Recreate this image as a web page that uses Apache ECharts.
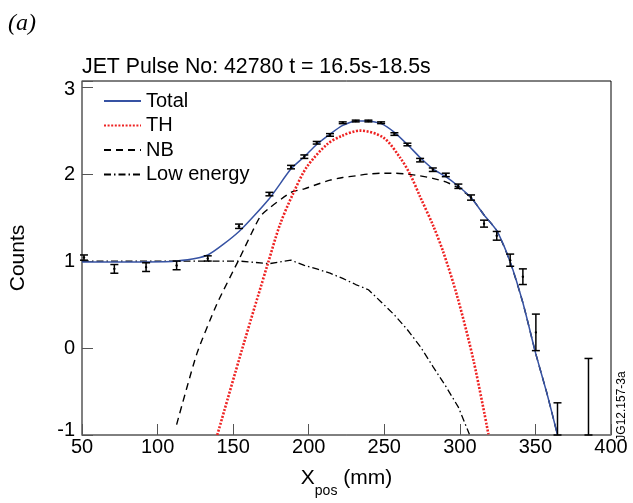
<!DOCTYPE html>
<html>
<head>
<meta charset="utf-8">
<script src="https://cdn.jsdelivr.net/npm/echarts@6/dist/echarts.min.js"></script>
<style>
  html, body { margin: 0; padding: 0; background: #fff; }
  #chart { width: 633px; height: 503px; }
</style>
</head>
<body>
<div id="chart"></div>
<script>
// measured points with error bars
var dataX   = [51.3, 71.4, 92.4, 112.6, 133.2, 153.9, 174.0, 188.3, 197.1, 205.3, 214.1, 222.5, 231.1, 239.5, 247.9, 256.7, 265.3, 273.7, 282.1, 290.7, 299.0, 307.4, 316.0, 324.4, 333.3, 341.7, 350.3, 364.6, 385.1];
var dataY   = [1.04, 0.91, 0.93, 0.95, 1.03, 1.40, 1.77, 2.08, 2.20, 2.36, 2.45, 2.59, 2.61, 2.61, 2.59, 2.46, 2.34, 2.16, 2.05, 1.99, 1.86, 1.73, 1.43, 1.29, 1.01, 0.82, 0.18, -1.20, -1.30];
var dataErr = [0.03, 0.05, 0.05, 0.05, 0.03, 0.025, 0.02, 0.02, 0.02, 0.015, 0.015, 0.01, 0.01, 0.01, 0.01, 0.015, 0.015, 0.02, 0.02, 0.02, 0.025, 0.03, 0.04, 0.05, 0.07, 0.09, 0.21, 0.57, 1.18];

// fit: total
var totalX = [50, 71.4, 92.4, 112.6, 133.2, 153.9, 174.0, 188.3, 197.1, 205.3, 214.1, 222.5, 231.1, 239.5, 247.9, 256.7, 265.3, 273.7, 282.1, 290.7, 299.0, 307.4, 316.0, 324.4, 333.3, 341.7, 350.3, 357.6, 364.6];
var totalY = [0.99, 0.99, 0.99, 1.00, 1.07, 1.34, 1.72, 2.06, 2.20, 2.34, 2.46, 2.56, 2.61, 2.61, 2.58, 2.48, 2.34, 2.19, 2.06, 1.97, 1.86, 1.73, 1.53, 1.35, 0.99, 0.52, -0.07, -0.52, -1.00];

// thermal component
var thX = [139.5, 157.0, 173.3, 181.0, 189.8, 198.7, 212.0, 222.0, 234.0, 249.4, 260.4, 267.0, 273.7, 282.5, 289.1, 298.0, 309.0, 318.9];
var thY = [-1.00, 0.05, 0.99, 1.42, 1.78, 2.08, 2.34, 2.44, 2.50, 2.42, 2.19, 2.00, 1.74, 1.40, 1.10, 0.61, -0.14, -0.99];

// neutral beam component
var nbX = [112.6, 125.9, 139.1, 153.9, 167.8, 174.0, 188.3, 197.1, 205.3, 214.1, 222.5, 231.1, 239.5, 247.9, 256.7, 265.3, 273.7, 282.1, 290.7, 299.0, 307.4, 316.0, 324.4, 333.3, 341.7, 350.3, 357.6, 364.6];
var nbY = [-0.88, -0.07, 0.50, 1.02, 1.51, 1.61, 1.79, 1.83, 1.88, 1.93, 1.96, 1.98, 2.00, 2.01, 2.01, 2.00, 1.98, 1.95, 1.91, 1.84, 1.73, 1.53, 1.35, 0.99, 0.52, -0.07, -0.52, -1.00];

// low energy component
var lowX = [50, 133.2, 153.9, 174.0, 188.3, 197.1, 205.3, 214.1, 222.5, 231.1, 239.5, 247.9, 256.7, 265.3, 273.7, 282.1, 290.7, 299.0, 306.3];
var lowY = [1.00, 1.00, 1.00, 0.97, 1.01, 0.95, 0.91, 0.86, 0.80, 0.73, 0.67, 0.53, 0.38, 0.21, 0.02, -0.21, -0.44, -0.68, -0.99];

var xTicks = [50, 100, 150, 200, 250, 300, 350, 400];
var yTicks = [-1, 0, 1, 2, 3];

var FONT = "'Liberation Sans', Arial, Helvetica, sans-serif";

function pairs(xs, ys) {
  return xs.map(function (x, i) { return [x, ys[i]]; });
}

var chart = echarts.init(document.getElementById('chart'));

var option = {
  animation: false,
  backgroundColor: '#fff',
  title: [
    {
      text: 'JET Pulse No: 42780 t = 16.5s-18.5s',
      left: 82, top: 57, padding: 0,
      textStyle: { fontFamily: FONT, fontSize: 21.3, fontWeight: 'normal', color: '#000' }
    },
    {
      text: '(a)',
      left: 8, top: 12, padding: 0,
      textStyle: { fontFamily: "'Liberation Serif', 'DejaVu Serif', serif", fontStyle: 'italic', fontSize: 24, fontWeight: 'normal', color: '#000' }
    }
  ],
  legend: {
    orient: 'vertical',
    left: 103, top: 91, padding: 0,
    itemWidth: 37, itemHeight: 14, itemGap: 4.5,
    itemStyle: { opacity: 0 },
    textStyle: { fontFamily: FONT, fontSize: 20, color: '#000' },
    data: ['Total', 'TH', 'NB', 'Low energy']
  },
  grid: {
    left: 82, right: 22, top: 81, bottom: 61,
    show: true, borderColor: '#000', borderWidth: 1, backgroundColor: 'transparent'
  },
  xAxis: {
    type: 'value', min: 50, max: 400, interval: 50,
    name: '{a|X}{sub|pos}{a| (mm)}',
    nameLocation: 'middle', nameGap: 33,
    nameTextStyle: {
      rich: {
        a: { fontFamily: FONT, fontSize: 21, color: '#000', lineHeight: 24, verticalAlign: 'top' },
        sub: { fontFamily: FONT, fontSize: 14, color: '#000', lineHeight: 14, padding: [16, 0, 0, 0], verticalAlign: 'top' }
      }
    },
    axisLine: { onZero: false, lineStyle: { color: '#808080', width: 1.5 } },
    axisTick: { inside: true, length: 11, lineStyle: { color: '#555', width: 1 } },
    axisLabel: {
      fontFamily: FONT, fontSize: 20, color: '#000', margin: 2,
      formatter: function (v) { return xTicks.indexOf(v) >= 0 ? String(v) : ''; }
    },
    splitLine: { show: false }
  },
  yAxis: {
    type: 'value', min: -1, max: 3.07, interval: 1,
    name: 'Counts',
    nameLocation: 'middle', nameGap: 53, nameRotate: 90,
    nameTextStyle: { fontFamily: FONT, fontSize: 21, color: '#000' },
    axisLine: { onZero: false, lineStyle: { color: '#808080', width: 1.5 } },
    axisTick: { inside: true, length: 11, lineStyle: { color: '#555', width: 1 } },
    axisLabel: {
      fontFamily: FONT, fontSize: 20, color: '#000', margin: 7,
      formatter: function (v) {
        if (yTicks.indexOf(v) < 0) return '';
        if (v === yTicks[0]) return '{lo|' + v + '}';
        if (v === yTicks[yTicks.length - 1]) return '{hi|' + v + '}';
        return String(v);
      },
      rich: {
        lo: { fontFamily: FONT, fontSize: 20, color: '#000', padding: [0, 0, 10, 0] },
        hi: { fontFamily: FONT, fontSize: 20, color: '#000', padding: [5, 0, 0, 0] }
      }
    },
    splitLine: { show: false }
  },
  graphic: [
    {
      type: 'text', x: 622, y: 406, rotation: Math.PI / 2,
      style: { text: 'JG12.157-3a', fontFamily: FONT, fontSize: 12, fill: '#000', align: 'center', verticalAlign: 'middle' }
    }
  ],
  series: [
    {
      name: 'Low energy', type: 'line', symbol: 'none', data: pairs(lowX, lowY),
      lineStyle: { color: '#000', width: 1.3, type: [7, 3, 1.5, 3] }, itemStyle: { color: '#000' }, z: 3
    },
    {
      name: 'NB', type: 'line', symbol: 'none', smooth: 0.2, data: pairs(nbX, nbY),
      lineStyle: { color: '#000', width: 1.4, type: [7, 5] }, itemStyle: { color: '#000' }, z: 3
    },
    {
      name: 'TH', type: 'line', symbol: 'none', smooth: 0.3, data: pairs(thX, thY),
      lineStyle: { color: '#ee2222', width: 2.6, type: [2, 1.6] }, itemStyle: { color: '#ee2222' }, z: 4
    },
    {
      name: 'Total', type: 'line', symbol: 'none', smooth: 0.2, data: pairs(totalX, totalY),
      lineStyle: { color: '#3652a3', width: 1.5 }, itemStyle: { color: '#3652a3' }, z: 5
    },
    {
      name: 'data', type: 'custom', z: 6,
      data: dataX.map(function (x, i) { return [x, dataY[i], dataErr[i]]; }),
      renderItem: function (params, api) {
        var cs = params.coordSys;
        var x = api.value(0), y = api.value(1), e = api.value(2);
        var top = api.coord([x, y + e]);
        var bot = api.coord([x, y - e]);
        var mid = api.coord([x, y]);
        var ymin = cs.y, ymax = cs.y + cs.height;
        var t = Math.max(ymin, Math.min(ymax, top[1]));
        var b = Math.max(ymin, Math.min(ymax, bot[1]));
        var px = top[0], hw = 4;
        var st = { stroke: '#000', lineWidth: 1.5 };
        var kids = [
          { type: 'line', shape: { x1: px, y1: t, x2: px, y2: b }, style: st },
          { type: 'line', shape: { x1: px - hw, y1: t, x2: px + hw, y2: t }, style: st },
          { type: 'line', shape: { x1: px - hw, y1: b, x2: px + hw, y2: b }, style: st }
        ];
        if (mid[1] >= ymin && mid[1] <= ymax) {
          kids.push({ type: 'circle', shape: { cx: px, cy: mid[1], r: 1.2 }, style: { fill: '#000' } });
        }
        return { type: 'group', children: kids };
      }
    }
  ]
};

chart.setOption(option);
</script>
</body>
</html>
